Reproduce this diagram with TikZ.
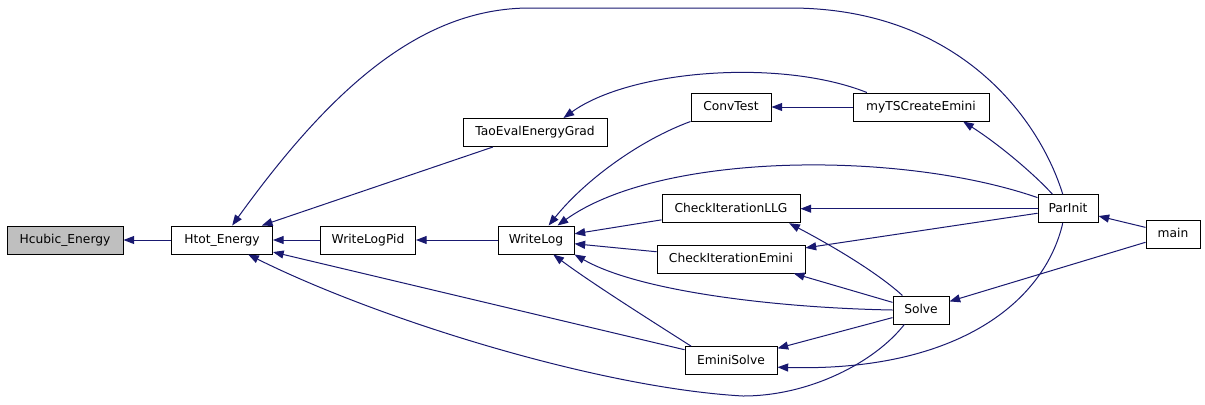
\documentclass[tikz,border=0pt]{standalone}
\usepackage{fontspec}
\setmainfont{DejaVu Sans}
\usetikzlibrary{arrows.meta}
\definecolor{edgecol}{HTML}{191970}
\definecolor{hifill}{HTML}{BFBFBF}
\tikzset{
  fnbox/.style={draw=black, line width=0.75pt, fill=white, inner sep=0pt,
    minimum height=21pt, text height=7pt, text depth=2pt,
    font=\fontsize{9.2}{11}\selectfont},
  bw/.style={minimum width=#1*0.75pt},
  edge/.style={draw=edgecol, line width=0.75pt,
    -{Triangle[length=8pt,width=6pt]}},
}
\begin{document}
\begin{tikzpicture}[x=0.75pt,y=-0.75pt]
\useasboundingbox (0,0) rectangle (1205,404);
\fill[white] (0,0) rectangle (1205,404);

\node[fnbox,bw=116,fill=hifill] (hcubic) at (65,240) {Hcubic\_Energy};
\node[fnbox,bw=101] (htot) at (222,240) {Htot\_Energy};
\node[fnbox,bw=95] (writelogpid) at (368,240) {WriteLogPid};
\node[fnbox,bw=76] (writelog) at (536,240) {WriteLog};
\node[fnbox,bw=144] (taoeval) at (535,132.5) {TaoEvalEnergyGrad};
\node[fnbox,bw=80] (convtest) at (731,107) {ConvTest};
\node[fnbox,bw=136] (myts) at (921,107) {myTSCreateEmini};
\node[fnbox,bw=138] (checkllg) at (731,208.7) {CheckIterationLLG};
\node[fnbox,bw=148] (checkemini) at (731,259) {CheckIterationEmini};
\node[fnbox,bw=56] (solve) at (921,310) {Solve};
\node[fnbox,bw=92] (eminisolve) at (731,360.7) {EminiSolve};
\node[fnbox,bw=60] (parinit) at (1068,208.7) {ParInit};
\node[fnbox,bw=54] (main) at (1173,234) {main};

% edges (caller -> callee)
\draw[edge] (htot) -- (hcubic);
\draw[edge] (writelogpid) -- (htot);
\draw[edge] (taoeval.199) -- (htot.20);
\draw[edge] (eminisolve) -- (htot);
\draw[edge] (parinit.110) .. controls (1040,120) and (960,8) .. (790,8)
   -- (530,8) .. controls (420,8) and (330,90) .. (htot.55);
\draw[edge] (solve.221) .. controls (875,362) and (810,396) .. (743,396)
   .. controls (600,388) and (380,320) .. (htot.-29);
\draw[edge] (writelog) -- (writelogpid);
\draw[edge] (myts.165) .. controls (780,58) and (630,70) .. (taoeval.27);
\draw[edge] (convtest.south west) .. controls (640,140) and (585,180) .. (writelog.49);
\draw[edge] (parinit.160) .. controls (900,150) and (660,152) .. (writelog.34);
\draw[edge] (checkllg) -- (writelog);
\draw[edge] (checkemini) -- (writelog);
\draw[edge] (solve.west) .. controls (780,308) and (640,292) .. (writelog.south east);
\draw[edge] (eminisolve.160) .. controls (650,320) and (590,282) .. (writelog.-40);
\draw[edge] (myts) -- (convtest);
\draw[edge] (parinit.137) .. controls (1035,175) and (1000,145) .. (myts.-19);
\draw[edge] (parinit) -- (checkllg);
\draw[edge] (parinit) -- (checkemini);
\draw[edge] (parinit.-110) .. controls (1045,300) and (960,372) .. (eminisolve.-8);
\draw[edge] (solve.142) .. controls (880,275) and (840,250) .. (checkllg.-14);
\draw[edge] (solve.165) -- (checkemini.-13);
\draw[edge] (solve) -- (eminisolve);
\draw[edge] (main) -- (parinit);
\draw[edge] (main) -- (solve);
\end{tikzpicture}
\end{document}
